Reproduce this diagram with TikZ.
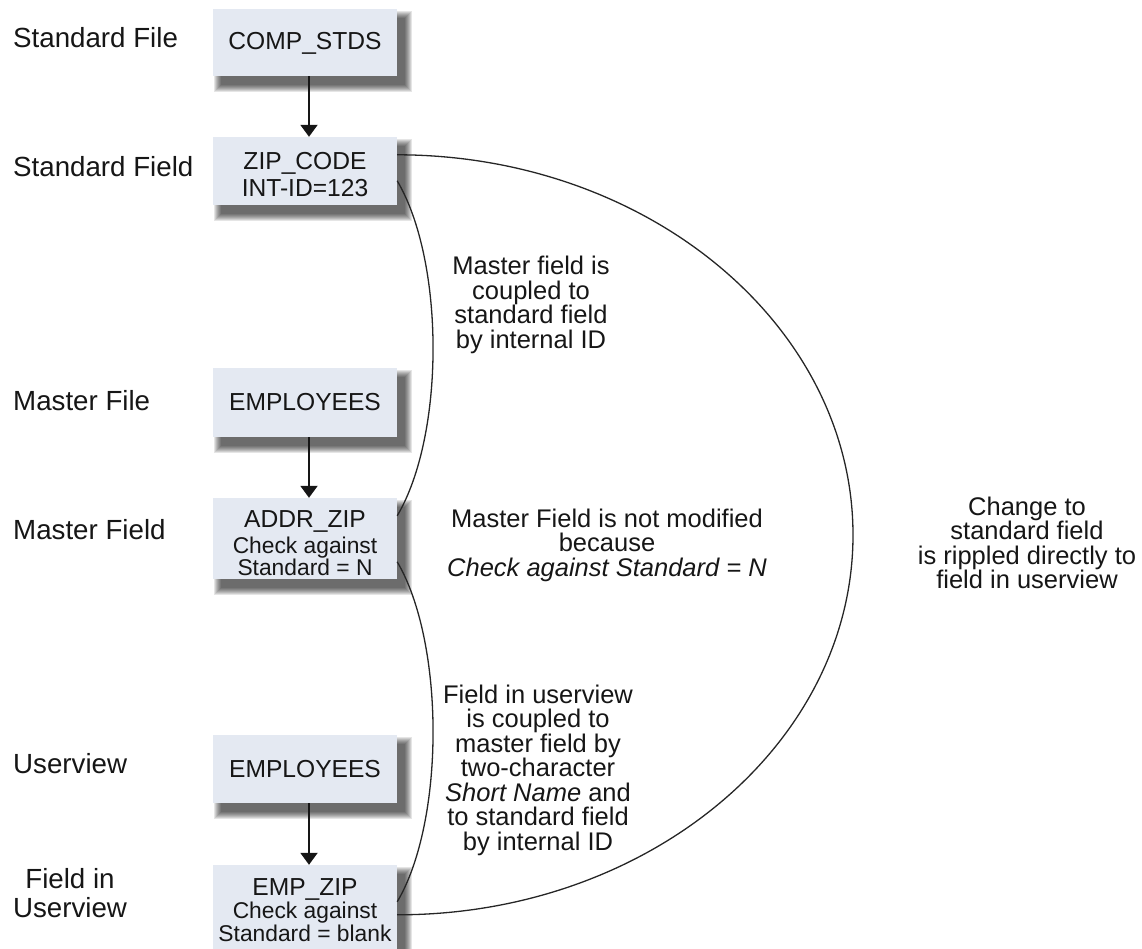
\documentclass[tikz,border=0pt]{standalone}
\usepackage{fontspec}
\setmainfont{Liberation Sans}
\usetikzlibrary{arrows.meta,calc,backgrounds}
\definecolor{boxfill}{RGB}{228,233,242}
\definecolor{ink}{RGB}{22,22,22}
\begin{document}
\begin{tikzpicture}[x=1pt,y=-1pt,
  box/.style={fill=boxfill, draw=none, minimum width=184pt, inner sep=0pt, rectangle},
  lbl/.style={anchor=base west, inner sep=0pt, text=ink, font={\fontsize{27.7}{29}\selectfont}},
  ttl/.style={anchor=base, inner sep=0pt, text=ink, font={\fontsize{24.6}{29}\selectfont}},
  sub/.style={anchor=base, inner sep=0pt, text=ink, font={\fontsize{22.8}{21}\selectfont}},
  note/.style={align=center, inner sep=0pt, text=ink, font={\fontsize{25.5}{24.5}\selectfont\lineskiplimit=-100pt}},
  arr/.style={line width=2pt, draw=ink, -{Triangle[width=17pt,length=12pt]}},
  link/.style={line width=1.3pt, draw=black!85},
]
\useasboundingbox (0,0) rectangle (1142,949);

% boxes
\node[box, minimum height=67pt] (cs) at (305,42.5) {};
\node[box, minimum height=68pt] (zc) at (305,171) {};
\node[box, minimum height=69pt] (me) at (305,402.5) {};
\node[box, minimum height=81pt] (az) at (305,538.5) {};
\node[box, minimum height=68pt] (ue) at (305,769) {};
\node[box, minimum height=84pt] (ez) at (305,907) {};

% blurred shadows
\begin{scope}[on background layer]
\foreach \n in {cs,zc,me,az,ue,ez}{
  \foreach \e in {0,1,...,7}{
    \fill[black, opacity=0.1] ($(\n.north west)+(8-\e,9-\e)$) rectangle ($(\n.south east)+(8+\e,9+\e)$);
  }
}
\end{scope}

% left labels
\node[lbl] (l1) at (13,48) {Standard File};
\node[lbl] (l2) at (13,177) {Standard Field};
\node[lbl] (l3) at (13,410) {Master File};
\node[lbl] (l4) at (13,539) {Master Field};
\node[lbl] (l5) at (13,773) {Userview};
\node[lbl, anchor=base] (l6) at (70,888) {Field in};
\node[lbl, anchor=base] (l7) at (70,917) {Userview};

% box texts
\node[ttl] (cst) at (305,50) {COMP\_STDS};
\node[ttl] (zct1) at (305,170) {ZIP\_CODE};
\node[ttl] (zct2) at (305,197) {INT-ID=123};
\node[ttl] (met) at (305,410) {EMPLOYEES};
\node[ttl] (azt1) at (305,527) {ADDR\_ZIP};
\node[sub] (azt2) at (305,553) {Check against};
\node[sub] (azt3) at (305,575) {Standard = N};
\node[ttl] (uet) at (305,777) {EMPLOYEES};
\node[ttl] (ezt1) at (305,895) {EMP\_ZIP};
\node[sub] (ezt2) at (305,918) {Check against};
\node[sub] (ezt3) at (305,941) {Standard = blank};

% arrows
\coordinate (ax) at (309,0);
\draw[arr] (cs.south -| ax) -- (zc.north -| ax);
\draw[arr] (me.south -| ax) -- (az.north -| ax);
\draw[arr] (ue.south -| ax) -- (ez.north -| ax);

% notes
\node[note] (n1) at (531,305) {Master field is\\coupled to\\standard field\\by internal ID};
\node[note] (n2) at (607,545) {Master Field is not modified\\because\\\textit{Check against Standard = N}};
\node[note] (n3) at (538,770) {Field in userview\\is coupled to\\master field by\\two-character\\\textit{Short Name} and\\to standard field\\by internal ID};
\node[note] (n4) at (1027,543) {Change to\\standard field\\is rippled directly to\\field in userview};

% coupling curves
\draw[link] ([yshift=-18pt]zc.north east) .. controls (648.8,155) and (853,326.1) .. (853,535)
  .. controls (853,743.9) and (648.8,915) .. ([yshift=-50pt]ez.north east);
\draw[link] ([yshift=-44pt]zc.north east) .. controls (445,262) and (445,435) .. ([yshift=-18pt]az.north east);
\draw[link] ([yshift=-64pt]az.north east) .. controls (445,643) and (445,821) .. ([yshift=-37pt]ez.north east);
\end{tikzpicture}
\end{document}
